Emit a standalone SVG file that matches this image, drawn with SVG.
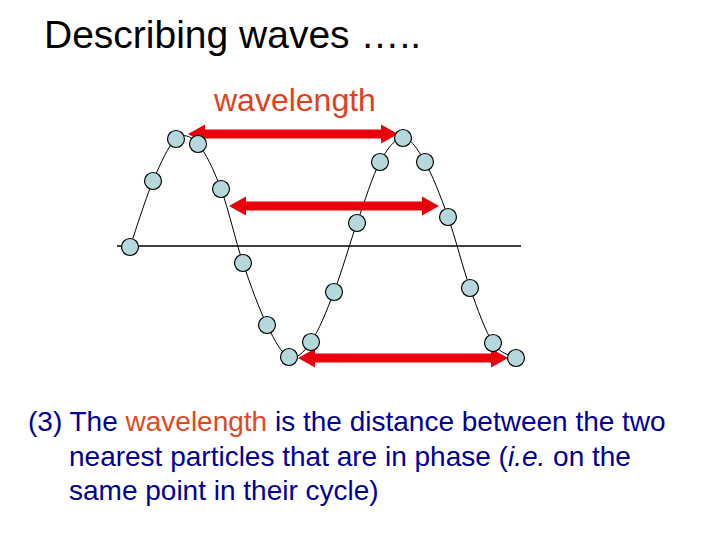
<svg xmlns="http://www.w3.org/2000/svg" width="720" height="540" viewBox="0 0 720 540">
<style>
.p{fill:#b4d8dc;stroke:#000;stroke-width:1.2}
.arrow{fill:#e8000a}
.body{font-family:"Liberation Sans",Arial,sans-serif;font-size:28px;fill:#000099}
.hl{fill:#dd4a1e}
</style>
<defs>
<polygon id="dbl" points="0,0 17,-9.5 17,-4.5 193,-4.5 193,-9.5 210,0 193,9.5 193,4.5 17,4.5 17,9.5"/>
</defs>
<rect width="720" height="540" fill="#fff"/>
<text x="44" y="48" font-family="Liberation Sans, Arial, sans-serif" font-size="39" fill="#000">Describing waves …..</text>
<text x="214" y="111" font-family="Liberation Sans, Arial, sans-serif" font-size="32" fill="#e2401a">wavelength</text>
<line x1="117" y1="246" x2="521" y2="246" stroke="#000" stroke-width="1.3"/>
<g id="connectors">
<path d="M130,247 C133.8,236 145.3,199 153,181 C160.7,163 168.5,145.2 176,139 C183.5,132.8 190.5,135.7 198,144 C205.5,152.3 213.5,169.2 221,189 C228.5,208.8 235.3,240.3 243,263 C250.7,285.7 259.3,309.3 267,325 C274.7,340.7 281.7,354.2 289,357 C296.3,359.8 303.5,352.8 311,342 C318.5,331.2 326.3,311.8 334,292 C341.7,272.2 349.3,244.7 357,223 C364.7,201.3 372.3,176.2 380,162 C387.7,147.8 395.5,138 403,138 C410.5,138 417.5,148.8 425,162 C432.5,175.2 440.5,196 448,217 C455.5,238 462.5,267 470,288 C477.5,309 485.3,331.3 493,343 C500.7,354.7 512.2,355.5 516,358" fill="none" stroke="#000" stroke-width="1"/>
<use href="#dbl" class="arrow" transform="translate(188,134)"/>
<use href="#dbl" class="arrow" transform="translate(229,206)"/>
<use href="#dbl" class="arrow" transform="translate(298,358)"/>
</g>
<g id="p1"><circle class="p" cx="130" cy="247" r="8.5"/></g>
<g id="p2"><circle class="p" cx="153" cy="181" r="8.5"/></g>
<g id="p3"><circle class="p" cx="176" cy="139" r="8.5"/></g>
<g id="p4"><circle class="p" cx="198" cy="144" r="8.5"/></g>
<g id="p5"><circle class="p" cx="221" cy="189" r="8.5"/></g>
<g id="p6"><circle class="p" cx="243" cy="263" r="8.5"/></g>
<g id="p7"><circle class="p" cx="267" cy="325" r="8.5"/></g>
<g id="p8"><circle class="p" cx="289" cy="357" r="8.5"/></g>
<g id="p9"><circle class="p" cx="311" cy="342" r="8.5"/></g>
<g id="p10"><circle class="p" cx="334" cy="292" r="8.5"/></g>
<g id="p11"><circle class="p" cx="357" cy="223" r="8.5"/></g>
<g id="p12"><circle class="p" cx="380" cy="162" r="8.5"/></g>
<g id="p13"><circle class="p" cx="403" cy="138" r="8.5"/></g>
<g id="p14"><circle class="p" cx="425" cy="162" r="8.5"/></g>
<g id="p15"><circle class="p" cx="448" cy="217" r="8.5"/></g>
<g id="p16"><circle class="p" cx="470" cy="288" r="8.5"/></g>
<g id="p17"><circle class="p" cx="493" cy="343" r="8.5"/></g>
<g id="p18"><circle class="p" cx="516" cy="358" r="8.5"/></g>
<text class="body" x="28" y="431">(3) The <tspan class="hl">wavelength</tspan> is the distance between the two</text>
<text class="body" x="69" y="466">nearest particles that are in phase (<tspan font-style="italic">i.e.</tspan> on the</text>
<text class="body" x="69" y="500">same point in their cycle)</text>
</svg>
